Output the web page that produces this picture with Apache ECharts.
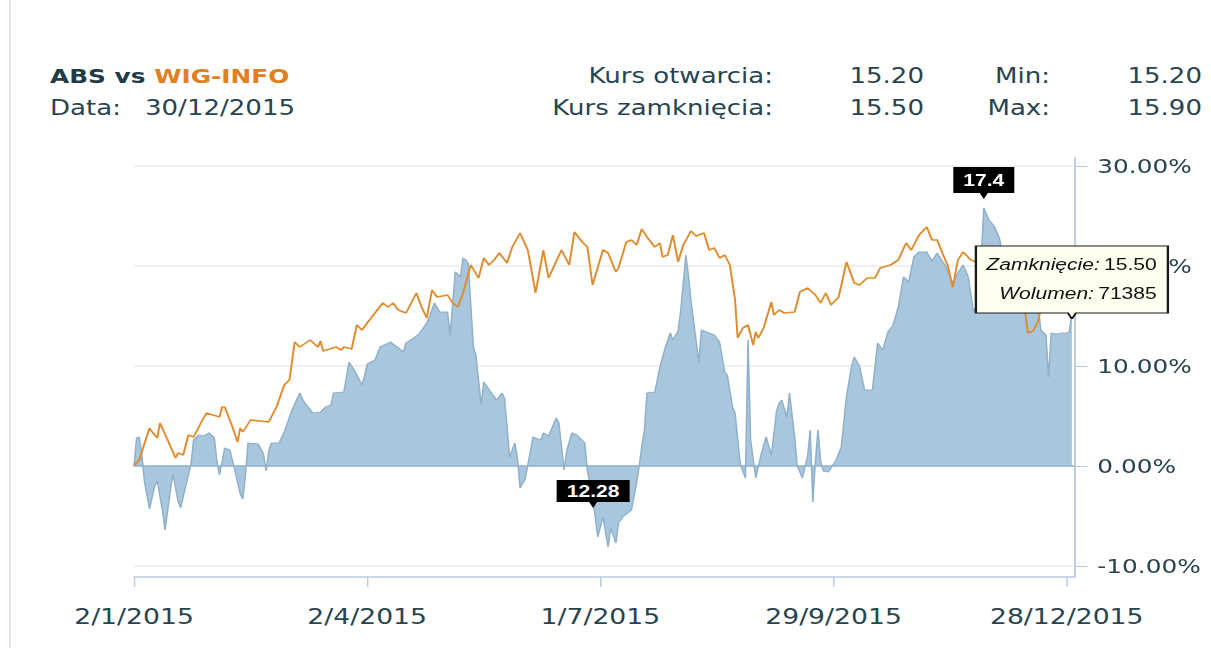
<!DOCTYPE html>
<html>
<head>
<meta charset="utf-8">
<title>ABS vs WIG-INFO</title>
<script src="https://cdn.jsdelivr.net/npm/echarts@6/dist/echarts.min.js"></script>
<style>
  html, body { margin: 0; padding: 0; background: #fff; overflow: hidden; }
  #main { position: absolute; left: 0; top: 0; height: 648px; transform-origin: 0 0; }
  #edge { position: absolute; left: 9px; top: 0; width: 2px; height: 648px; background: #e1e7ee; z-index: 2; }
</style>
</head>
<body>
<div id="main"></div>
<div id="edge"></div>
<script>
// the source picture is stretched sideways, so the chart is laid out narrow and scaled back out
const S = 1.24;
const W = 1211 / S;
const sx = v => v / S;

// days counted from 2/1/2015
const tickDays = [0, 90, 180, 270, 360];

// ABS, % change from first close
const absDay = [
  0, 1, 2, 3, 4, 6, 8, 9, 11, 12, 14, 15, 17, 18, 20, 22, 23, 25, 27, 29,
  31, 32, 33, 35, 37, 39, 41, 42, 43, 44, 48, 50, 51, 52, 53, 56, 58, 61, 64, 65,
  66, 69, 72, 74, 76, 77, 81, 83, 85, 88, 89, 90, 93, 95, 99, 101, 104, 105, 108, 110,
  113, 114, 116, 118, 121, 122, 124, 126, 127, 128, 129, 131, 132, 134, 135, 138, 140, 142, 143, 145,
  147, 148, 149, 151, 153, 154, 157, 158, 160, 163, 164, 166, 167, 169, 171, 174, 175, 177, 179, 181,
  183, 184, 186, 187, 189, 192, 194, 195, 196, 197, 198, 201, 203, 205, 207, 208, 210, 211, 213, 214,
  215, 218, 219, 221, 224, 226, 228, 229, 231, 232, 234, 236, 237, 238, 240, 242, 244, 246, 248, 249,
  250, 252, 253, 255, 256, 258, 260, 261, 262, 263, 264, 265, 266, 268, 269, 271, 273, 275, 277, 278,
  280, 282, 285, 287, 289, 291, 293, 295, 297, 299, 301, 303, 306, 308, 310, 313, 316, 318, 320, 322,
  324, 326, 327, 328, 330, 332, 334, 336, 338, 340, 342, 344, 346, 348, 349, 350, 352, 353, 354, 356, 358, 360, 361, 362
];
const absPct = [
  0, 2.8, 2.9, 1.2, -1.5, -4.3, -2.0, -1.5, -4.5, -6.4, -2.5, -0.8, -3.5, -4.2, -2.0, 0.2, 2.6, 3.1, 3.0, 3.3,
  2.8, 0.5, -0.9, 1.8, 1.6, -0.5, -2.8, -3.3, -1.0, 2.3, 2.2, 1.2, -0.5, 1.5, 2.3, 2.3, 3.4, 5.6, 7.3, 6.7,
  6.3, 5.3, 5.4, 5.9, 6.1, 7.3, 7.4, 10.4, 9.6, 8.1, 9.0, 10.2, 10.6, 11.9, 12.4, 12.0, 11.4, 12.3, 12.8, 13.2,
  14.3, 14.9, 16.3, 15.4, 15.4, 13.1, 19.4, 18.9, 20.8, 20.6, 20.3, 11.9, 11.0, 6.1, 8.4, 7.3, 6.6, 7.3, 6.8, 0.9,
  2.3, 0.8, -2.2, -1.3, 1.5, 2.9, 2.6, 3.3, 3.0, 4.8, 4.3, -0.4, 1.5, 3.3, 3.1, 2.3, -0.5, -3.0, -7.1, -5.1,
  -8.1, -6.2, -7.7, -5.7, -5.0, -4.4, -1.7, 0, 2.0, 3.6, 7.3, 7.4, 9.9, 11.8, 13.3, 12.6, 13.5, 15.5, 21.1, 19.0,
  16.5, 10.4, 13.6, 13.4, 13.1, 12.4, 9.4, 9.1, 5.9, 5.3, 0.2, -1.2, 12.6, 2.6, -1.2, 1.1, 2.9, 1.1, 5.5, 6.3,
  6.6, 4.9, 7.3, 2.9, 0, -1.2, 1.0, 3.6, -3.6, 0.5, 3.6, 0.5, -0.5, -0.6, -0.2, 0.6, 1.9, 7.0, 10.0, 10.9,
  10.0, 7.6, 7.6, 12.3, 11.6, 13.4, 14.1, 15.9, 18.9, 18.4, 20.9, 21.4, 21.4, 20.5, 21.3, 20.1, 18.3, 19.3, 20.1, 18.9,
  15.4, 16.4, 20.9, 25.8, 24.6, 24.0, 22.8, 20.5, 19.0, 17.5, 18.5, 17.0, 16.5, 16.2, 16.0, 13.6, 13.1, 8.9, 13.3, 13.2, 13.3, 13.3, 13.4, 15.3
];

// WIG-INFO, % change from first close
const wigDay = [
  0, 2, 6, 7, 9, 10, 13, 16, 17, 19, 21, 23, 26, 28, 33, 34, 35, 38, 40, 41,
  42, 45, 52, 55, 58, 60, 62, 64, 68, 71, 72, 73, 78, 80, 81, 84, 86, 88, 90, 93,
  96, 98, 100, 102, 105, 109, 111, 113, 115, 117, 121, 123, 125, 127, 130, 133, 135, 137, 139, 141,
  144, 146, 149, 152, 155, 158, 160, 165, 168, 170, 173, 175, 177, 181, 183, 186, 187, 190, 192, 194,
  196, 198, 201, 203, 204, 206, 208, 210, 212, 215, 217, 220, 222, 224, 226, 228, 230, 232, 233, 235,
  237, 239, 240, 241, 243, 246, 247, 249, 251, 255, 257, 260, 263, 265, 267, 269, 272, 275, 278, 280,
  283, 286, 288, 292, 295, 298, 300, 303, 306, 308, 310, 312, 314, 316, 318, 320, 323, 326, 330, 334,
  338, 342, 344, 345, 347, 349, 350, 354, 358, 362
];
const wigPct = [
  0, 0.6, 3.8, 3.4, 2.8, 4.3, 2.6, 0.8, 1.3, 1.1, 3.1, 2.9, 4.4, 5.3, 4.9, 5.9, 5.9, 3.9, 2.4, 3.8,
  3.4, 4.6, 4.4, 5.9, 8.1, 8.6, 12.4, 11.9, 12.6, 11.9, 12.5, 11.5, 11.9, 11.6, 11.9, 11.7, 14.1, 13.6, 14.3, 15.3,
  16.3, 15.9, 16.3, 15.6, 15.3, 17.3, 15.9, 14.8, 17.6, 16.9, 17.1, 16.3, 15.9, 17.3, 20.1, 18.8, 20.8, 20.1, 20.6, 21.3,
  20.3, 21.9, 23.3, 21.6, 17.3, 21.6, 18.8, 21.6, 20.1, 23.4, 22.4, 21.9, 18.1, 21.6, 21.3, 19.4, 19.8, 22.4, 22.6, 22.1,
  23.7, 22.9, 21.9, 22.3, 20.9, 21.1, 23.1, 20.4, 22.1, 23.5, 23.0, 23.3, 21.6, 21.8, 20.8, 21.1, 20.1, 16.6, 12.8, 13.8,
  14.1, 12.1, 13.4, 12.8, 13.8, 16.4, 15.1, 15.6, 15.3, 15.4, 17.4, 17.8, 17.1, 16.3, 17.3, 16.1, 16.9, 20.4, 18.3, 18.1,
  18.8, 18.8, 19.8, 20.1, 20.6, 22.3, 21.6, 23.1, 23.9, 22.6, 22.6, 21.3, 20.1, 17.9, 20.6, 21.4, 20.6, 20.3, 19.8, 20.2,
  19.0, 18.0, 15.3, 13.3, 13.5, 14.5, 15.8, 17.0, 17.2, 16.8
];

// header / annotation figures
const headLeft = ["ABS", "WIG-INFO", "30/12/2015"];
const quote = { open: "15.20", close: "15.50", min: "15.20", max: "15.90" };
const maxPrice = "17.4";
const minPrice = "12.28";
const lastVolume = "71385";

const txt = "#28444f";
const axisBlue = "#b9cce0";
const font = "DejaVu Sans";

const base = Date.UTC(2015, 0, 2);
function dayLabel(d) {
  const t = new Date(base + d * 86400000);
  return t.getUTCDate() + "/" + (t.getUTCMonth() + 1) + "/" + t.getUTCFullYear();
}

const absData = absDay.map((d, i) => [d, absPct[i]]);
const wigData = wigDay.map((d, i) => [d, wigPct[i]]);
const last = absData[absData.length - 1];

const el = document.getElementById("main");
el.style.width = W + "px";
el.style.transform = "scaleX(" + S + ")";

const gridLeft = sx(134);
const gridRight = W - sx(1075);

function headText(text, x, y, align, extra) {
  return {
    type: "text",
    x: sx(x),
    y: y,
    style: Object.assign({
      text: text,
      fill: txt,
      fontFamily: font,
      fontSize: 21,
      align: align,
      verticalAlign: "middle"
    }, extra || {})
  };
}

const tagLabel = {
  show: true,
  position: "inside",
  offset: [0, -3],
  color: "#fff",
  fontFamily: "Liberation Sans",
  fontWeight: "bold",
  fontSize: 17
};

const option = {
  animation: false,
  backgroundColor: "#fff",
  grid: [
    { left: gridLeft, right: gridRight, top: 166, bottom: 648 - 566 },
    { left: gridLeft, right: gridRight, top: 158, bottom: 648 - 577 }
  ],
  xAxis: [
    {
      type: "value",
      gridIndex: 0,
      min: 0,
      max: 363.2,
      offset: 11,
      axisLine: { onZero: false, lineStyle: { color: axisBlue, width: 1.5 } },
      axisTick: { customValues: tickDays, length: 10, lineStyle: { color: axisBlue, width: 1.2 } },
      axisLabel: {
        customValues: tickDays,
        formatter: dayLabel,
        color: txt,
        fontFamily: font,
        fontSize: 21.5,
        margin: 29
      },
      splitLine: { show: false }
    },
    { type: "value", gridIndex: 1, min: 0, max: 1, show: false }
  ],
  yAxis: [
    {
      type: "value",
      gridIndex: 0,
      position: "right",
      min: -10,
      max: 30,
      interval: 10,
      axisLine: { show: false, onZero: false },
      axisTick: { show: true, length: 10, lineStyle: { color: axisBlue, width: 1.2 } },
      axisLabel: {
        formatter: v => v.toFixed(2) + "%",
        color: txt,
        fontFamily: font,
        fontSize: 20,
        margin: 18
      },
      splitLine: { lineStyle: { color: "#ebebeb", width: 1.5 } }
    },
    {
      type: "value",
      gridIndex: 1,
      position: "right",
      min: 0,
      max: 1,
      axisLine: { show: true, onZero: false, lineStyle: { color: axisBlue, width: 1.5 } },
      axisTick: { show: false },
      axisLabel: { show: false },
      splitLine: { show: false }
    }
  ],
  series: [
    {
      name: headLeft[0],
      type: "line",
      data: absData,
      symbol: "none",
      z: 2,
      lineStyle: { color: "#8fb0cb", width: 1.2 },
      areaStyle: { color: "#a8c6dc", opacity: 1 },
      markLine: {
        silent: true,
        symbol: "none",
        label: { show: false },
        lineStyle: { color: "#93b3cd", width: 1.5, type: "solid" },
        data: [{ yAxis: 0 }]
      },
      markPoint: {
        silent: true,
        data: [
          {
            type: "max",
            symbol: "path://M0,0 H60 V26 H34 L30,32 L26,26 H0 Z",
            symbolSize: [sx(61), 32],
            symbolOffset: [0, -25],
            itemStyle: { color: "#000" },
            label: Object.assign({}, tagLabel, { formatter: () => maxPrice })
          },
          {
            type: "min",
            symbol: "path://M0,0 H73 V22 H40.5 L36.5,28 L32.5,22 H0 Z",
            symbolSize: [sx(73), 28],
            symbolOffset: [sx(-15), -53],
            itemStyle: { color: "#000" },
            label: Object.assign({}, tagLabel, { formatter: () => minPrice })
          },
          {
            coord: last,
            symbol: "path://M0,0 H192 V67 H100 L96,73 L92,67 H0 Z",
            symbolSize: [sx(192), 73],
            symbolOffset: [0, -30.5],
            itemStyle: { color: "#fffff0", borderColor: "#1a1a1a", borderWidth: 1.3 },
            label: {
              show: true,
              position: [sx(182), 4],
              align: "right",
              verticalAlign: "top",
              formatter: "{i|Zamknięcie:} {v|" + quote.close + "}\n{i|Wolumen:} {v|" + lastVolume + "}",
              rich: {
                i: { fontStyle: "italic", fontFamily: "Liberation Sans", fontSize: 17, color: "#111", lineHeight: 29 },
                v: { fontFamily: "Liberation Sans", fontSize: 17, color: "#111", lineHeight: 29 }
              }
            }
          }
        ]
      }
    },
    {
      name: headLeft[1],
      type: "line",
      data: wigData,
      symbol: "none",
      z: 3,
      lineStyle: { color: "#e08c2e", width: 1.6 }
    }
  ],
  graphic: [
    {
      type: "text",
      x: sx(50),
      y: 76,
      style: {
        text: "{a|" + headLeft[0] + " vs }{b|" + headLeft[1] + "}",
        verticalAlign: "middle",
        rich: {
          a: { fill: "#1f3c48", fontFamily: font, fontWeight: "bold", fontSize: 20 },
          b: { fill: "#e0801f", fontFamily: font, fontWeight: "bold", fontSize: 20 }
        }
      }
    },
    headText("Data:", 50, 108, "left"),
    headText(headLeft[2], 145, 108, "left"),
    headText("Kurs otwarcia:", 773, 76, "right"),
    headText(quote.open, 924, 76, "right"),
    headText("Min:", 1050, 76, "right"),
    headText(quote.min, 1202, 76, "right"),
    headText("Kurs zamknięcia:", 773, 108, "right"),
    headText(quote.close, 924, 108, "right"),
    headText("Max:", 1050, 108, "right"),
    headText(quote.max, 1202, 108, "right")
  ]
};

const chart = echarts.init(el, null, { renderer: "svg", width: W, height: 648 });
chart.setOption(option);
</script>
</body>
</html>
